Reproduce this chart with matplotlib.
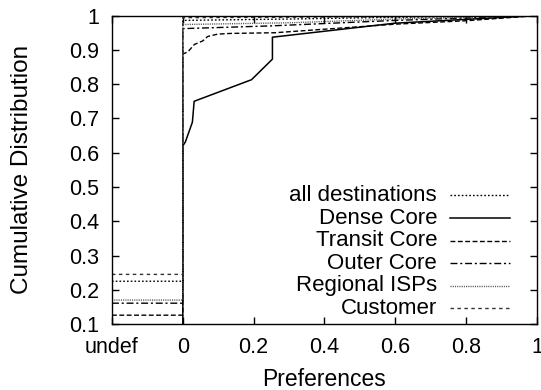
import matplotlib
matplotlib.use("Agg")
import matplotlib.pyplot as plt
from matplotlib.lines import Line2D

plt.rcParams['font.family'] = ['Liberation Sans', 'DejaVu Sans']

UNDEF = -0.2

labels = ["all destinations", "Dense Core", "Transit Core", "Outer Core", "Regional ISPs", "Customer"]

all_x = [UNDEF, 0.0, 0.0, 0.3, 0.6, 1.0]
all_y = [0.225, 0.225, 0.986, 0.99, 0.995, 1.0]

dense_x = [UNDEF, 0.0, 0.0, 0.007, 0.027, 0.032, 0.194, 0.253, 0.253, 0.6, 1.0]
dense_y = [0.0, 0.0, 0.62, 0.631, 0.689, 0.750, 0.813, 0.873, 0.937, 0.978, 1.0]

transit_x = [UNDEF, 0.0, 0.0, 0.014, 0.033, 0.056, 0.07, 0.098, 0.135, 0.26, 0.6, 0.8, 1.0]
transit_y = [0.126, 0.126, 0.888, 0.894, 0.916, 0.926, 0.939, 0.946, 0.948, 0.95, 0.975, 0.985, 1.0]

outer_x = [UNDEF, 0.0, 0.0, 0.25, 0.6, 1.0]
outer_y = [0.161, 0.161, 0.962, 0.97, 0.986, 1.0]

regional_x = [UNDEF, 0.0, 0.0, 0.3, 0.6, 1.0]
regional_y = [0.170, 0.170, 0.974, 0.979, 0.99, 1.0]

customer_x = [UNDEF, 0.0, 0.0, 0.5, 1.0]
customer_y = [0.245, 0.245, 0.994, 0.996, 1.0]

xticks = [UNDEF, 0.0, 0.2, 0.4, 0.6, 0.8, 1.0]
xticklabels = ["undef", "0", "0.2", "0.4", "0.6", "0.8", "1"]
yticks = [0.1, 0.2, 0.3, 0.4, 0.5, 0.6, 0.7, 0.8, 0.9, 1.0]
yticklabels = ["0.1", "0.2", "0.3", "0.4", "0.5", "0.6", "0.7", "0.8", "0.9", "1"]

styles = [
    dict(color='black', lw=1.0, ls=(0, (1.2, 1.5))),
    dict(color='black', lw=1.1, ls='-'),
    dict(color='black', lw=1.0, ls=(0, (3.5, 1.8))),
    dict(color='black', lw=1.0, ls=(0, (5, 2, 1.5, 2))),
    dict(color='#555555', lw=1.0, ls=(0, (0.8, 0.8))),
    dict(color='#333333', lw=1.0, ls=(0, (2.5, 2.5))),
]

series = [(all_x, all_y), (dense_x, dense_y), (transit_x, transit_y),
          (outer_x, outer_y), (regional_x, regional_y), (customer_x, customer_y)]

fig = plt.figure(figsize=(5.41, 3.90), dpi=100)
ax = fig.add_axes([0.207, 0.169, 0.7856, 0.791])

for (xs, ys), st in zip(series, styles):
    ax.plot(xs, ys, clip_on=True, **st)

ax.set_xlim(UNDEF, 1.0)
ax.set_ylim(0.1, 1.0)
ax.set_xticks(xticks)
ax.set_xticklabels(xticklabels)
ax.set_yticks(yticks)
ax.set_yticklabels(yticklabels)
ax.tick_params(direction='in', length=5, width=1, labelsize=15.5, pad=9,
               top=True, right=True)
for s in ax.spines.values():
    s.set_linewidth(1.0)

ax.set_ylabel("Cumulative Distribution", fontsize=17.5, va='center')
ax.yaxis.set_label_coords(-0.212, 0.5)
ax.set_xlabel("Preferences", fontsize=16.5, va='center')
ax.xaxis.set_label_coords(0.5, -0.181)

# gnuplot-style key: right-aligned text followed by line sample
key_y = [0.417, 0.343, 0.270, 0.198, 0.124, 0.051]
for lab, st, ky in zip(labels, styles, key_y):
    ax.text(0.765, ky, lab, transform=ax.transAxes, ha='right', va='center', fontsize=16)
    ax.add_line(Line2D([0.795, 0.936], [ky, ky], transform=ax.transAxes, **st))

fig.savefig("out.png", dpi=100)
